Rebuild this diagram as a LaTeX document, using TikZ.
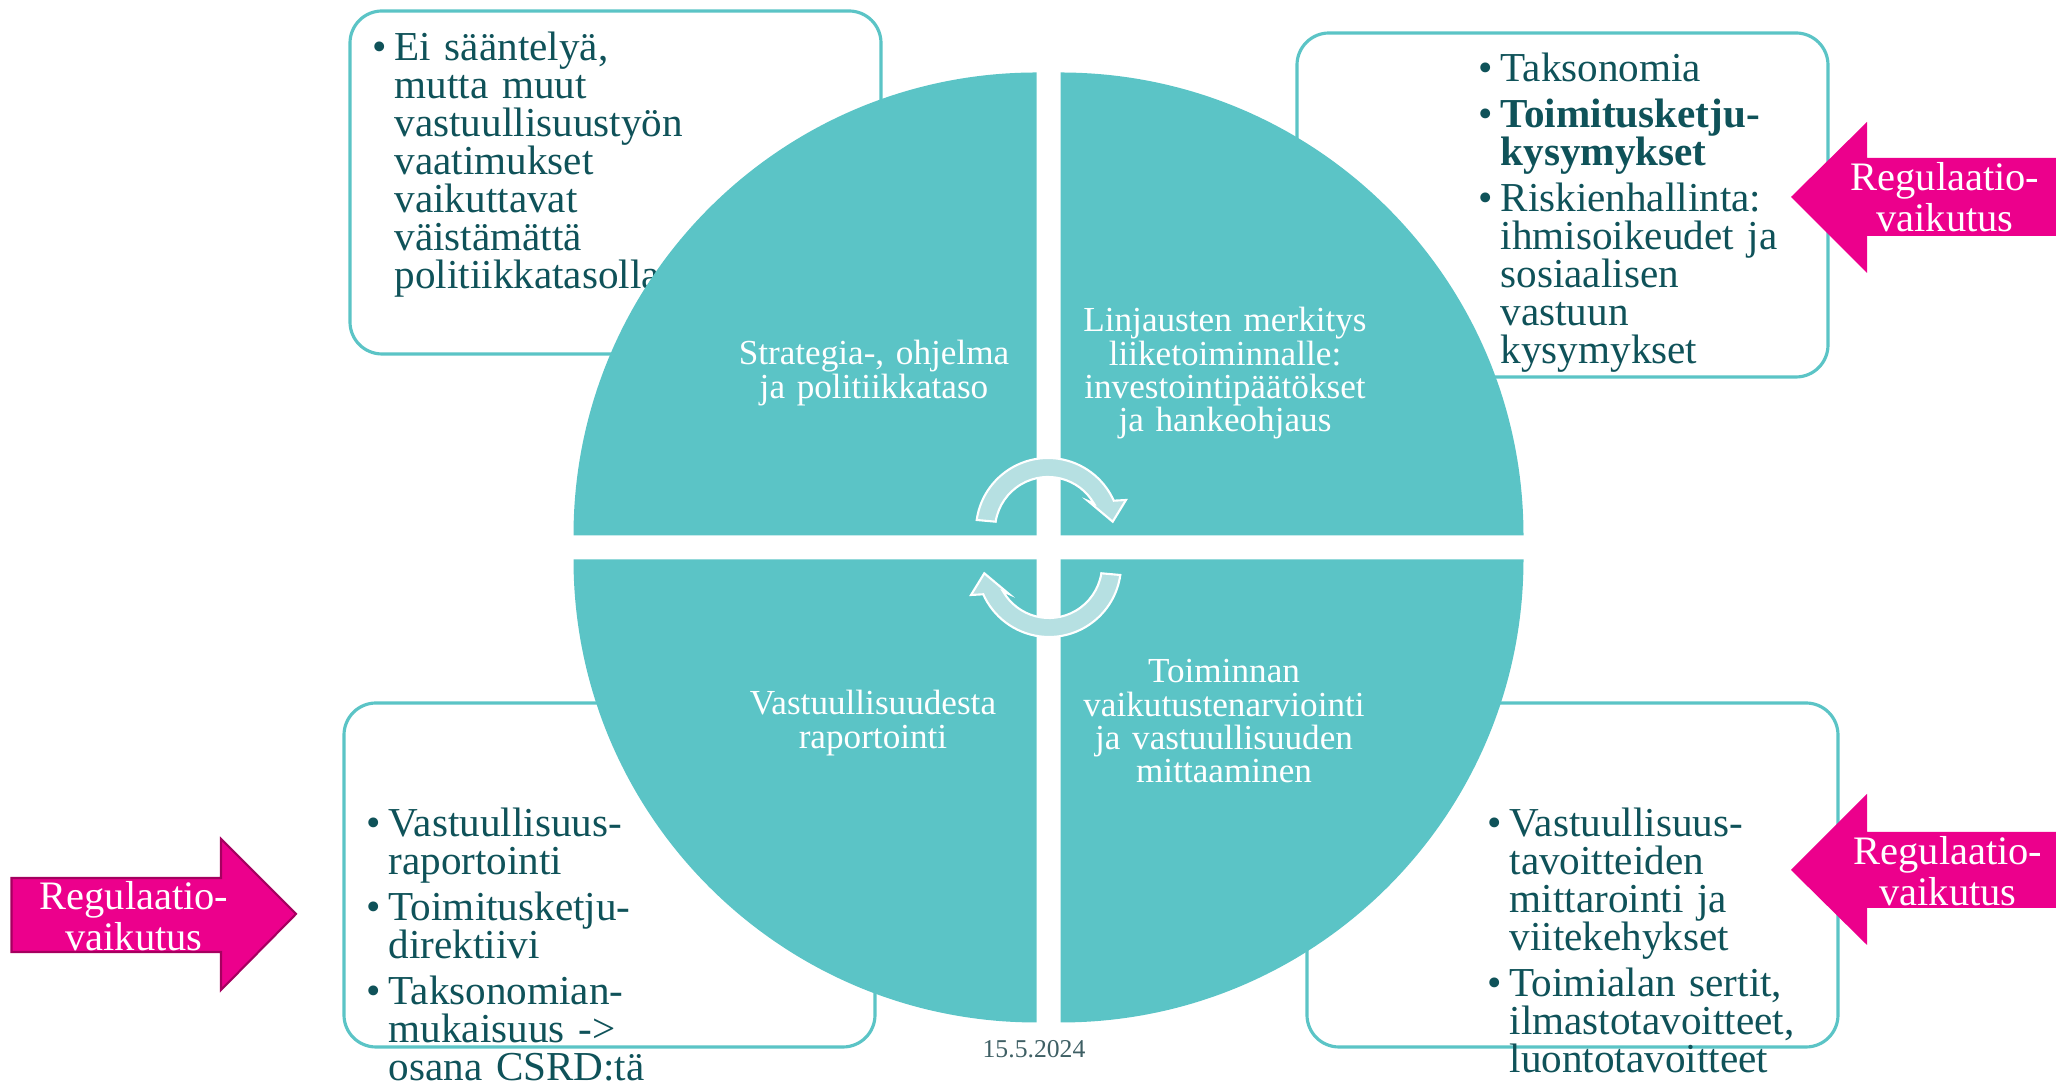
\documentclass[tikz,border=0pt]{standalone}
\usepackage{fontspec}
\setmainfont{Liberation Serif}

\definecolor{quadteal}{RGB}{91,196,198}
\definecolor{turnlight}{RGB}{182,224,226}
\definecolor{darkteal}{RGB}{15,82,89}
\definecolor{regmagenta}{RGB}{236,0,140}
\definecolor{regborder}{RGB}{165,0,95}
\definecolor{dategray}{RGB}{62,95,100}

% bullet hanging in the left margin of a list line
\newcommand{\bitem}{\leavevmode\llap{\textbullet\hspace{2.1pt}}}

\tikzset{
    infobox/.style={draw=quadteal, line width=0.9pt, fill=white, rounded corners=0.32cm},
    boxtext/.style={anchor=base west, inner sep=0pt, text width=5cm, align=left,
        text=darkteal, font=\fontsize{11.7}{10.8}\selectfont,
        execute at begin node={\lineskiplimit=-10pt}},
    quadtext/.style={anchor=base, inner sep=0pt, text width=3.4cm, align=center,
        text=white, font=\fontsize{10}{9.4}\selectfont,
        execute at begin node={\lineskiplimit=-10pt}},
    turnarrow/.style={fill=turnlight, draw=white, line width=0.6pt},
    regarrow/.style={fill=regmagenta},
    regtext/.style={align=center, inner sep=0pt, text=white, font=\fontsize{11.5}{11.7}\selectfont}
}

\begin{document}
\begin{tikzpicture}[x=0.01cm, y=0.01cm]
    \useasboundingbox (0,0) rectangle (2056,1082);

    % boxes behind the circle
    \draw[infobox] (350,728) rectangle (881,1071);
    \draw[infobox] (1297,705) rectangle (1828,1049);
    \draw[infobox] (344,35) rectangle (875,379);
    \draw[infobox] (1307,35) rectangle (1838,379);

    \node[boxtext] (tlbox) at (394,1021) {\bitem Ei sääntelyä,\\ mutta muut\\
        vastuullisuustyön\\ vaatimukset\\ vaikuttavat\\ väistämättä\\
        politiikkatasolla};
    \node[boxtext] (trbox) at (1500,1000) {\bitem Taksonomia\\[2.2pt]
        \bitem\textbf{Toimitusketju-}\\ \textbf{kysymykset}\\[2.2pt]
        \bitem Riskienhallinta:\\ ihmisoikeudet ja\\ sosiaalisen\\ vastuun\\
        kysymykset};
    \node[boxtext] (blbox) at (388,245) {\bitem Vastuullisuus-\\ raportointi\\[2.2pt]
        \bitem Toimitusketju-\\ direktiivi\\[2.2pt]
        \bitem Taksonomian-\\ mukaisuus ->\\ osana CSRD:tä};
    \node[boxtext] (brbox) at (1509,245) {\bitem Vastuullisuus-\\ tavoitteiden\\
        mittarointi ja\\ viitekehykset\\[2.2pt]
        \bitem Toimialan sertit,\\ ilmastotavoitteet,\\ luontotavoitteet};

    % four quarters of the circle
    \foreach \a/\dx/\dy in {0/1/1, 90/-1/1, 180/-1/-1, 270/1/-1}
        \fill[quadteal, shift={(1048.5+12*\dx,534.5+12*\dy)}]
            (0,0) -- (\a:463) arc[start angle=\a, end angle=\a+90, radius=463] -- cycle;

    \node[quadtext] (strategy) at (874,717) {Strategia-, ohjelma\\ja politiikkataso};
    \node[quadtext] (policies) at (1225,750) {Linjausten merkitys\\liiketoiminnalle:\\
        investointipäätökset\\ja hankeohjaus};
    \node[quadtext] (reporting) at (873,367) {Vastuullisuudesta\\raportointi};
    \node[quadtext] (impact) at (1224,399) {Toiminnan\\vaikutustenarviointi\\
        ja vastuullisuuden\\mittaaminen};

    % cycle arrows
    \draw[turnarrow, shift={(1048,552)}]
        (172:72) arc[start angle=172, end angle=24, radius=72] -- (78,30) -- (64.7,8.3)
        -- (40,29) -- (30:53) arc[start angle=30, end angle=171, radius=53] -- cycle;
    \draw[turnarrow, shift={(1049,517)}, rotate=180]
        (172:72) arc[start angle=172, end angle=24, radius=72] -- (78,30) -- (64.7,8.3)
        -- (40,29) -- (30:53) arc[start angle=30, end angle=171, radius=53] -- cycle;

    % regulation arrows
    \fill[regarrow] (2056,924) -- (1867,924) -- (1867,960) -- (1791,885) -- (1867,809)
        -- (1867,846) -- (2056,846) -- cycle;
    \fill[regarrow] (2056,250) -- (1867,250) -- (1867,288) -- (1791,212) -- (1867,137)
        -- (1867,174) -- (2056,174) -- cycle;
    \filldraw[regarrow, draw=regborder, line width=0.6pt] (11.5,204) -- (221,204) -- (221,243)
        -- (296,168) -- (221,92) -- (221,130) -- (11.5,130) -- cycle;

    \node[regtext] (regtop) at (1945,885) {Regulaatio-\\vaikutus};
    \node[regtext] (regbottom) at (1948,211) {Regulaatio-\\vaikutus};
    \node[regtext] (regleft) at (134,166) {Regulaatio-\\vaikutus};

    \node[text=dategray, font=\fontsize{7.3}{8}\selectfont, inner sep=0pt] (date) at (1034,33) {15.5.2024};
\end{tikzpicture}
\end{document}
